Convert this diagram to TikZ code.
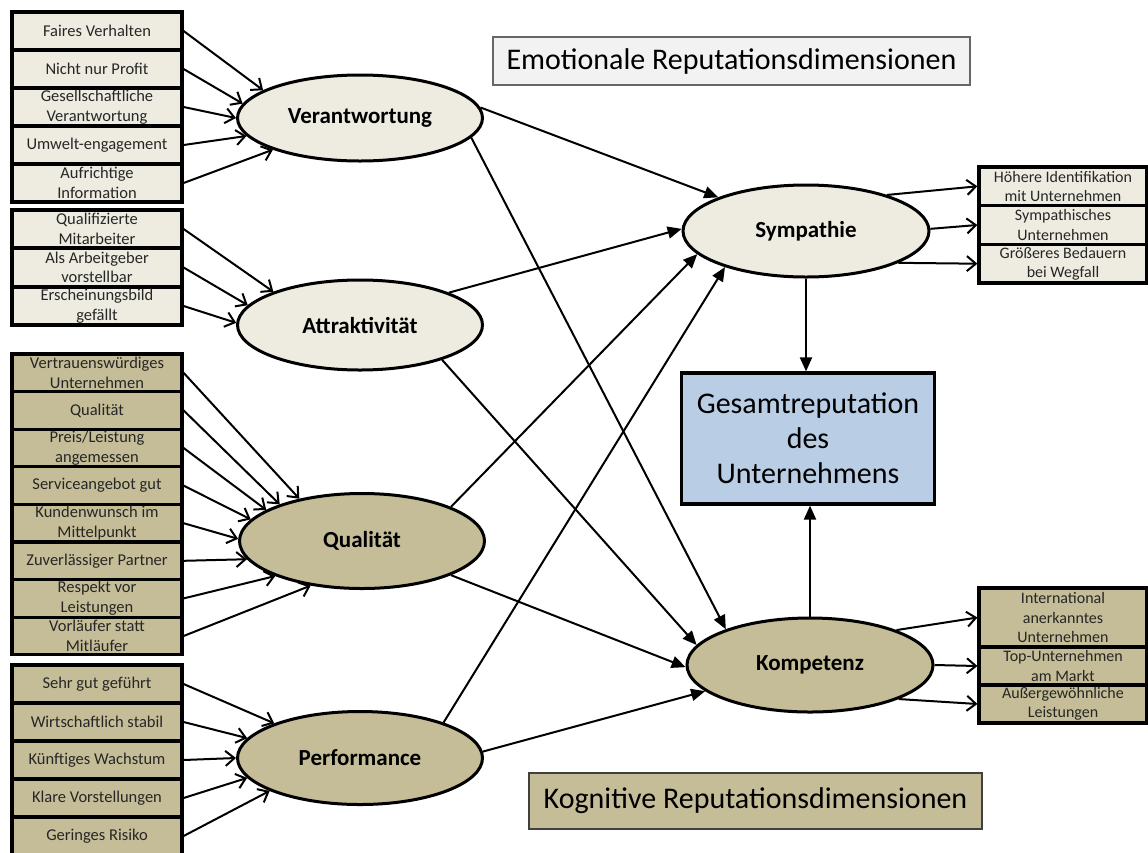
\documentclass[tikz,border=0pt]{standalone}
\usepackage{fontspec}
\setmainfont{Carlito}
\usetikzlibrary{shapes.geometric,arrows.meta}
\definecolor{beige}{HTML}{EEECE1}
\definecolor{tan}{HTML}{C4BD97}
\definecolor{lblue}{HTML}{B9CDE5}
\definecolor{lgray}{HTML}{F2F2F2}
\begin{document}
\begin{tikzpicture}[x=1pt,y=-1pt,
 lbox/.style={draw, line width=3.2pt, minimum width=170pt, minimum height=38pt, inner sep=0pt, align=center, font=\fontsize{16.5}{19.5}\selectfont, text=black!85},
 emo/.style={fill=beige}, cog/.style={fill=tan},
 dim/.style={ellipse, draw, line width=3pt, inner sep=0pt, minimum width=245pt, font=\fontsize{23}{26}\selectfont\bfseries},
 rbox/.style={draw, line width=3.2pt, minimum width=168pt, inner sep=0pt, align=center, font=\fontsize{16}{19.5}\selectfont, text=black!85},
 inarr/.style={line width=2pt, -{Straight Barb[length=9pt,width=15pt]}},
 midarr/.style={line width=2pt, -{Triangle[length=14pt,width=12pt]}},
]
\useasboundingbox (0,0) rectangle (1148,852);
\clip (0,0) rectangle (1148,852);

% left group 1
\node[lbox,emo] (f1) at (97,31) {Faires Verhalten};
\node[lbox,emo] (f2) at (97,69) {Nicht nur Profit};
\node[lbox,emo] (f3) at (97,107) {Gesellschaftliche\\Verantwortung};
\node[lbox,emo] (f4) at (97,145) {Umwelt-engagement};
\node[lbox,emo] (f5) at (97,183) {Aufrichtige\\Information};
% left group 2
\node[lbox,emo] (a1) at (97,229) {Qualifizierte\\Mitarbeiter};
\node[lbox,emo] (a2) at (97,267.5) {Als Arbeitgeber\\vorstellbar};
\node[lbox,emo] (a3) at (97,306) {Erscheinungsbild\\gefällt};
% left group 3
\node[lbox,cog,minimum height=37.6pt] (q1) at (97,372.8) {Vertrauenswürdiges\\Unternehmen};
\node[lbox,cog,minimum height=37.6pt] (q2) at (97,410.4) {Qualität};
\node[lbox,cog,minimum height=37.6pt] (q3) at (97,448) {Preis/Leistung\\angemessen};
\node[lbox,cog,minimum height=37.6pt] (q4) at (97,485.6) {Serviceangebot gut};
\node[lbox,cog,minimum height=37.6pt] (q5) at (97,523.2) {Kundenwunsch im\\Mittelpunkt};
\node[lbox,cog,minimum height=37.6pt] (q6) at (97,560.8) {Zuverlässiger Partner};
\node[lbox,cog,minimum height=37.6pt] (q7) at (97,598.4) {Respekt vor\\Leistungen};
\node[lbox,cog,minimum height=37.6pt] (q8) at (97,636) {Vorläufer statt\\Mitläufer};
% left group 4
\node[lbox,cog] (p1) at (97,684) {Sehr gut geführt};
\node[lbox,cog] (p2) at (97,722) {Wirtschaftlich stabil};
\node[lbox,cog] (p3) at (97,760) {Künftiges Wachstum};
\node[lbox,cog] (p4) at (97,798) {Klare Vorstellungen};
\node[lbox,cog] (p5) at (97,836) {Geringes Risiko};

% ellipses
\node[dim,emo,minimum height=86pt] (V) at (360,118) {Verantwortung};
\node[dim,emo,minimum height=90pt] (A) at (360,325) {Attraktivität};
\node[dim,cog,minimum height=95pt] (Q) at (362,541) {Qualität};
\node[dim,cog,minimum height=93pt] (P) at (360,758) {Performance};
\node[dim,emo,minimum width=246pt,minimum height=92pt] (S) at (806,231) {Sympathie};
\node[dim,cog,minimum width=246pt,minimum height=94pt] (K) at (810,665) {Kompetenz};

% central box
\node[draw,line width=3.2pt,fill=lblue,minimum width=253pt,minimum height=131pt,align=center,
  font=\fontsize{30}{35}\selectfont] (G) at (808,438.5) {Gesamtreputation\\des\\Unternehmens};

% titles
\node[draw=black!60,line width=1.2pt,fill=lgray,minimum width=477pt,minimum height=48pt,
  font=\fontsize{30}{34}\selectfont] (E) at (731.5,61) {Emotionale Reputationsdimensionen};
\node[draw=black!75,line width=1.2pt,fill=tan,minimum width=453pt,minimum height=56pt,
  font=\fontsize{30}{34}\selectfont] (C) at (755.5,801) {Kognitive Reputationsdimensionen};

% right boxes
\node[rbox,emo,minimum height=38.7pt] (s1) at (1063,186.3) {Höhere Identifikation\\mit Unternehmen};
\node[rbox,emo,minimum height=38.7pt] (s2) at (1063,225) {Sympathisches\\Unternehmen};
\node[rbox,emo,minimum height=38.7pt] (s3) at (1063,263.7) {Größeres Bedauern\\bei Wegfall};
\node[rbox,cog,minimum height=59pt] (k1) at (1063,617.5) {International\\anerkanntes\\Unternehmen};
\node[rbox,cog,minimum height=38pt] (k2) at (1063,666) {Top-Unternehmen\\am Markt};
\node[rbox,cog,minimum height=38pt] (k3) at (1063,704) {Außergewöhnliche\\Leistungen};

% input arrows
\draw[inarr] (f1.east) -- (V.164);
\draw[inarr] (f2.east) -- (V.173);
\draw[inarr] (f3.east) -- (V.180);
\draw[inarr] (f4.east) -- (V.189);
\draw[inarr] (f5.east) -- (V.200);
\draw[inarr] (a1.east) -- (A.159);
\draw[inarr] (a2.east) -- (A.170);
\draw[inarr] (a3.east) -- (A.179);
\draw[inarr] (q1.east) -- (Q.146);
\draw[inarr] (q2.east) -- (Q.156);
\draw[inarr] (q3.east) -- (Q.162);
\draw[inarr] (q4.east) -- (Q.169);
\draw[inarr] (q5.east) -- (Q.179);
\draw[inarr] (q6.east) -- (Q.189);
\draw[inarr] (q7.east) -- (Q.202);
\draw[inarr] (q8.east) -- (Q.221);
\draw[inarr] (p1.east) -- (P.158);
\draw[inarr] (p2.east) -- (P.170);
\draw[inarr] (p3.east) -- (P.180);
\draw[inarr] (p4.east) -- (P.190);
\draw[inarr] (p5.east) -- (P.200);

% middle arrows
\draw[midarr] (V.5) -- (S.159);
\draw[midarr] (V.-10) -- (K.157);
\draw[midarr] (A.20) -- (S.179);
\draw[midarr] (A.-23) -- (K.170);
\draw[midarr] (Q.21) -- (S.192);
\draw[midarr] (Q.-21) -- (K.181);
\draw[midarr] (P.23) -- (S.204);
\draw[midarr] (P.3) -- (K.194);
\draw[midarr] (S.south) -- (S.south |- G.north);
\draw[midarr] (K.north) -- (K.north |- G.south);

% output arrows
\draw[inarr] (S.24) -- (s1.west);
\draw[inarr] (S.1) -- (s2.west);
\draw[inarr] (S.-19) -- (s3.west);
\draw[inarr] (K.22) -- (k1.west);
\draw[inarr] (K.0) -- (k2.west);
\draw[inarr] (K.-21) -- (k3.west);
\end{tikzpicture}
\end{document}
